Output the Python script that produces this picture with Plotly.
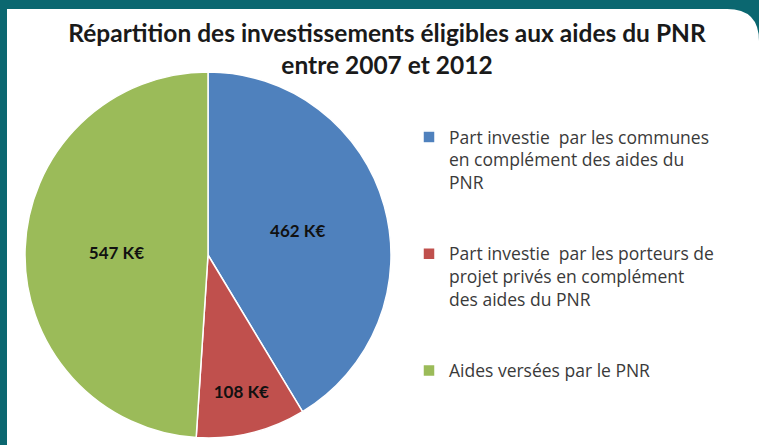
import plotly.graph_objects as go

W, H = 759, 445

categories = [
    "Part investie  par les communes<br>en complément des aides du<br>PNR<br> <br> ",
    "Part investie  par les porteurs de<br>projet privés en complément<br>des aides du PNR<br> <br> ",
    "Aides versées par le PNR",
]
values = [462, 108, 547]
labels = ["%d K€" % v for v in values]
colors = ["#4f81bd", "#c0504d", "#9bbb59"]

TEAL = "#0b6770"


def px_x(x):
    return x / W


def px_y(y):
    return 1 - y / H


fig = go.Figure()
fig.add_trace(go.Pie(
    labels=categories, values=values, text=labels,
    textinfo="text", textposition="inside", insidetextorientation="horizontal",
    textfont=dict(family="Lato", size=17, color="#111111", weight="bold"),
    sort=False, direction="clockwise", rotation=0,
    marker=dict(colors=colors, line=dict(color="white", width=1.5)),
    domain=dict(x=[px_x(25), px_x(391)], y=[px_y(438), px_y(72)]),
    hoverinfo="label+value",
))

# white card on the teal background, rounded top-right corner
card = "M %f,%f L %f,%f L %f,%f Q %f,%f %f,%f L %f,%f Z" % (
    px_x(7), px_y(445), px_x(7), px_y(9), px_x(727), px_y(9),
    px_x(759), px_y(9), px_x(759), px_y(41), px_x(759), px_y(445))
fig.add_shape(type="path", path=card, xref="paper", yref="paper",
              fillcolor="white", line=dict(width=0), layer="below")

fig.update_layout(
    width=W, height=H,
    margin=dict(l=0, r=0, t=0, b=0),
    paper_bgcolor=TEAL, plot_bgcolor="white",
    title=dict(text="Répartition des investissements éligibles aux aides du PNR<br>entre 2007 et 2012",
               x=px_x(387), xanchor="center", y=px_y(42), yanchor="top",
               font=dict(family="Lato", size=24.5, color="#1a1a1a", weight="bold")),
    legend=dict(x=px_x(409), xanchor="left", y=px_y(119), yanchor="top",
                font=dict(family="Open Sans", size=17.5, color="#3a3a3a"),
                valign="top", bgcolor="rgba(0,0,0,0)", itemwidth=30),
    showlegend=True,
)

# the page body has an 8px default margin; drop it so the figure fills the window
fig.write_html("out.html", config={"displayModeBar": False},
               post_script="document.body.style.margin='0';")
